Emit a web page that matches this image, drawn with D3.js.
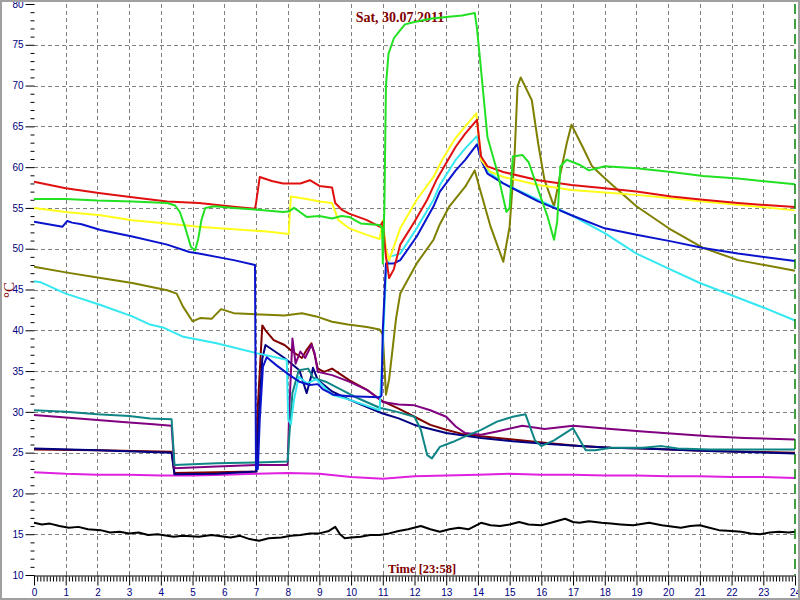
<!DOCTYPE html>
<html><head><meta charset="utf-8">
<script src="https://cdn.jsdelivr.net/npm/d3@7"></script>
<style>
html,body{margin:0;padding:0;background:#fff;}
svg{display:block;}
</style></head>
<body>
<svg id="chart" width="800" height="600"></svg>
<script>
// ---- DATA (hours, °C) ----
const titleText = "Sat, 30.07.2011";
const xAxisTitle = "Time [23:58]";
const yAxisTitle = "°C";
const xTickLabels = d3.range(0, 25);
const yTickLabels = d3.range(10, 81, 5);

const greenSeries = [[0,56.1],[1,56.1],[2,55.9],[3.1,55.8],[4.2,55.6],[4.45,55.3],[4.6,54.5],[4.76,52.7],[4.95,50.2],[5.08,49.8],[5.18,51.2],[5.28,53.5],[5.4,55.0],[5.7,55.2],[6.3,55.0],[6.97,54.8],[7.86,54.5],[8.05,54.6],[8.2,55.0],[8.35,54.6],[8.6,53.9],[9.0,54.0],[9.4,53.7],[9.7,54.0],[9.94,53.9],[10.3,53.1],[10.9,52.9],[10.98,52.5],[11.0,48.2],[11.05,55],[11.1,70],[11.18,73.9],[11.35,75.8],[11.55,76.8],[11.7,77.5],[12.0,77.8],[12.5,78.2],[13.0,78.4],[13.5,78.6],[13.9,78.9],[13.97,77.0],[14.07,73.1],[14.2,67.8],[14.3,63.7],[14.6,59.6],[14.9,54.5],[15.0,55.0],[15.1,61.3],[15.4,61.5],[15.6,60.6],[15.9,57.2],[16.2,53.9],[16.4,51.1],[16.5,53.3],[16.6,60.1],[16.8,60.9],[17.2,60.3],[17.5,59.6],[17.8,59.9],[18.0,60.1],[19.0,59.85],[20.1,59.4],[21.1,58.9],[22.2,58.6],[24,57.9]];

const redSeries = [[0,58.2],[1,57.4],[2.1,56.8],[3.1,56.3],[4.2,55.8],[5.2,55.6],[6.3,55.15],[6.97,54.9],[7.0,55.5],[7.12,58.8],[7.5,58.3],[7.86,58.0],[8.4,58.0],[8.7,58.4],[9.0,57.7],[9.4,57.5],[9.5,55.6],[9.7,54.8],[9.94,54.3],[10.5,53.5],[10.9,52.7],[11.0,53.3],[11.1,49],[11.2,46.4],[11.35,47.5],[11.55,50.5],[12.0,53.3],[12.4,56.0],[12.7,58.5],[13.0,60.5],[13.3,62.5],[13.6,64.1],[13.97,65.8],[14.1,61.3],[14.3,60.1],[14.8,59.4],[15.9,58.4],[16.95,57.8],[18,57.4],[19,57.0],[20.1,56.4],[21.1,56.0],[22.2,55.6],[24,55.1]];

const yellowSeries = [[0,55.0],[1,54.5],[2.1,54.1],[3.1,53.5],[4.2,53.1],[5.2,52.7],[6.3,52.4],[7.35,52.1],[8.03,51.8],[8.1,56.4],[8.6,56.1],[9.0,55.8],[9.4,55.6],[9.6,53.5],[9.94,52.5],[10.5,51.7],[10.9,51.2],[11.0,53.5],[11.1,50.0],[11.2,48.6],[11.55,52.5],[12.07,56.0],[12.6,58.8],[12.9,61.1],[13.0,61.7],[13.3,63.6],[13.6,65.0],[13.95,66.6],[14.1,60.9],[14.4,59.4],[14.8,58.8],[15.9,57.8],[16.95,57.2],[18,56.9],[19,56.6],[20.1,56.2],[21.1,55.8],[22.2,55.4],[24,54.7]];

const blueSeries = [[0,53.3],[0.9,52.7],[1.05,53.4],[1.2,53.2],[1.5,53.0],[2.1,52.3],[3.1,51.5],[4.2,50.5],[4.9,49.6],[5.2,49.4],[6.3,48.6],[6.97,48.0],[7.0,23.0],[7.06,23.0],[7.12,29.0],[7.22,35.5],[7.34,36.7],[7.65,35.7],[8.06,34.5],[8.37,33.7],[8.7,33.3],[8.95,33.4],[9.1,32.8],[9.44,32.1],[9.97,31.9],[10.9,31.8],[10.96,32],[11.0,40],[11.1,48.2],[11.35,48.2],[11.55,48.6],[12.07,51.5],[12.6,55.2],[12.8,57.0],[13.3,59.6],[13.6,60.9],[13.97,62.8],[14.1,60.9],[14.3,59.2],[14.8,58.0],[15.4,56.8],[15.9,55.8],[16.4,55.0],[16.95,54.1],[18.0,52.5],[19.0,51.7],[20.1,50.9],[21.1,50.1],[22.2,49.4],[24,48.5]];

const cyanSeries = [[0,46.0],[0.2,45.9],[1,44.5],[2.1,43.1],[3.1,41.7],[3.66,40.7],[4.1,40.3],[4.71,39.2],[5.76,38.4],[7.02,37.2],[7.97,36.4],[8.02,29],[8.1,28.5],[8.2,31.5],[8.35,34.3],[8.6,33.5],[8.9,34.0],[9.4,32.1],[9.94,31.5],[10.9,30.2],[11.0,38],[11.1,47],[11.2,49.0],[11.55,49.4],[12.07,52.5],[12.6,56.0],[12.8,57.8],[13.3,60.9],[13.6,62.3],[13.97,63.8],[14.1,61.3],[14.3,59.6],[14.8,58.0],[15.9,56.0],[16.95,54.1],[18.0,51.9],[19.0,49.4],[20.1,47.4],[21,45.8],[22,44.3],[23,42.8],[24,41.2]];

const oliveSeries = [[0,47.8],[1,47.1],[2.1,46.4],[3.1,45.8],[4.2,44.9],[4.5,44.5],[4.7,42.9],[5.0,41.1],[5.24,41.5],[5.6,41.4],[5.9,42.6],[6.3,42.1],[7.35,41.9],[7.9,41.8],[8.45,42.1],[8.9,41.7],[9.4,41.05],[9.9,40.7],[10.5,40.4],[10.9,40.1],[11.0,39.5],[11.1,32.1],[11.2,34],[11.42,41.5],[11.55,44.5],[12.07,48.2],[12.6,51.1],[12.8,53.0],[13.1,55.2],[13.6,57.6],[13.9,59.6],[14.1,56.8],[14.4,52.7],[14.8,48.4],[15.0,52.7],[15.15,60.9],[15.25,69.9],[15.35,71.0],[15.7,68.2],[15.9,62.9],[16.1,58.4],[16.4,55.2],[16.6,59.2],[16.8,62.9],[16.95,65.2],[17.3,62.5],[17.6,60.1],[17.9,59.0],[18.3,57.6],[19.0,55.2],[20.1,52.3],[21.1,50.1],[22.2,48.6],[24,47.3]];

const tealSeries = [[0,30.2],[1,30.0],[2,29.7],[3,29.5],[3.66,29.2],[4.34,29.1],[4.43,23.5],[5.76,23.7],[7.02,23.8],[8.0,23.9],[8.05,27.0],[8.15,32.3],[8.35,35.1],[8.65,35.3],[8.8,34.2],[9.2,33.7],[9.7,32.7],[10.2,31.7],[10.9,30.5],[11.45,30.0],[12.0,29.4],[12.2,27.8],[12.4,24.7],[12.55,24.3],[12.8,25.7],[13.2,26.3],[13.6,27.0],[14.1,27.8],[14.6,28.8],[15.1,29.4],[15.5,29.7],[15.8,26.5],[16.0,25.8],[16.4,26.5],[17.0,28.0],[17.4,25.3],[17.7,25.3],[18.2,25.6],[19.2,25.6],[19.8,25.8],[20.3,25.5],[21.3,25.4],[22.4,25.4],[24,25.4]];

const purpleSeries = [[0,29.6],[1,29.3],[2,29.0],[3,28.7],[3.66,28.5],[4.34,28.3],[4.43,23.1],[5.76,23.3],[7.02,23.5],[8.0,23.5],[8.05,30.2],[8.15,39.0],[8.25,35.9],[8.4,37.4],[8.55,36.6],[8.75,38.2],[8.85,37.2],[8.95,34.9],[9.4,34.5],[9.94,33.7],[10.5,32.7],[11.0,31.2],[11.5,30.9],[12.0,30.8],[12.5,30.2],[13.0,29.4],[13.3,28.2],[13.6,27.4],[14.1,27.2],[14.6,27.6],[15.4,28.3],[16.1,27.9],[17.0,28.3],[18.2,27.9],[19.2,27.6],[20.3,27.3],[21.3,27.0],[22.4,26.8],[24,26.6]];

const maroonSeries = [[0,25.4],[2,25.3],[4.34,25.1],[4.43,22.5],[5.76,22.6],[7.0,22.7],[7.05,30],[7.2,40.6],[7.3,40.0],[7.56,38.8],[7.9,38.2],[8.15,37.4],[8.45,36.6],[8.6,37.6],[8.75,38.4],[8.85,37.0],[8.95,35.3],[9.15,34.9],[9.4,35.3],[9.94,33.9],[10.5,32.7],[11.0,31.3],[11.5,30.4],[12.0,29.4],[12.5,28.4],[13.0,27.8],[13.5,27.3],[14.1,27.0],[15.1,26.6],[16.1,26.2],[17.2,25.8],[18.2,25.6],[19.2,25.5],[21.3,25.2],[24,25.0]];

const navySeries = [[0,25.5],[2,25.3],[4.34,25.0],[4.43,22.35],[5.76,22.4],[7.02,22.7],[7.1,30],[7.2,36.5],[7.3,38.2],[7.45,37.8],[7.9,36.6],[8.37,35.1],[8.5,33.5],[8.6,32.3],[8.75,34.5],[8.8,35.4],[8.95,33.9],[9.4,32.5],[9.94,31.5],[10.5,30.6],[11.0,29.8],[11.5,29.2],[12.0,28.4],[13.0,27.4],[14.1,26.8],[15.1,26.4],[16.1,26.1],[17.2,25.8],[18.2,25.6],[19.2,25.5],[21.3,25.2],[24,24.9]];

const magentaSeries = [[0,22.6],[1,22.4],[2,22.3],[3,22.3],[4,22.2],[5,22.2],[6,22.3],[7,22.4],[8,22.5],[9,22.4],[10,22.0],[11,21.8],[12,22.1],[13,22.2],[14,22.3],[15,22.4],[16,22.3],[17,22.3],[18,22.2],[19,22.2],[20,22.1],[21,22.1],[22,22.0],[23,22.0],[24,21.9]];

const blackSeries = [[0,16.4],[0.25,16.2],[0.5,16.3],[0.8,16.0],[1.1,15.8],[1.4,15.9],[1.7,15.6],[2.1,15.5],[2.4,15.2],[2.7,15.3],[3.0,15.1],[3.3,15.2],[3.6,14.9],[3.9,15.0],[4.4,14.7],[4.7,14.8],[5.2,14.7],[5.6,14.9],[6.2,14.6],[6.5,14.8],[6.8,14.4],[7.1,14.2],[7.4,14.5],[7.8,14.6],[8.1,14.8],[8.4,14.9],[8.7,15.1],[9.0,15.1],[9.3,15.4],[9.5,15.9],[9.65,15.0],[9.8,14.5],[10.0,14.6],[10.3,14.7],[10.6,14.9],[10.9,14.9],[11.2,15.1],[11.5,15.4],[11.8,15.6],[12.2,16.0],[12.5,15.6],[12.8,15.3],[13.1,15.6],[13.4,15.8],[13.7,15.6],[14.1,16.4],[14.4,16.1],[14.7,16.0],[15.0,16.2],[15.3,16.5],[15.6,16.2],[16.0,16.1],[16.3,16.4],[16.75,16.9],[17.0,16.5],[17.2,16.4],[17.5,16.6],[17.9,16.4],[18.2,16.3],[18.5,16.2],[18.9,16.1],[19.4,16.4],[19.8,16.1],[20.4,15.8],[20.7,16.0],[21.0,16.1],[21.3,15.8],[21.6,15.5],[22.0,15.4],[22.3,15.3],[22.6,15.1],[22.9,15.0],[23.2,15.2],[23.5,15.3],[23.8,15.2],[24,15.3]];

// ---- drawing ----
const series = [
  {data: blackSeries,   color: "#000000"},
  {data: magentaSeries, color: "#e020e0"},
  {data: maroonSeries,  color: "#800000"},
  {data: navySeries,    color: "#000080"},
  {data: purpleSeries,  color: "#800080"},
  {data: tealSeries,    color: "#108585"},
  {data: oliveSeries,   color: "#7f7f00"},
  {data: cyanSeries,    color: "#33e8f0"},
  {data: blueSeries,    color: "#0a14cc"},
  {data: yellowSeries,  color: "#ffff1a"},
  {data: redSeries,     color: "#e01010"},
  {data: greenSeries,   color: "#22e022"}
];

const svg = d3.select("#chart");
const x = d3.scaleLinear().domain([0, 24]).range([34, 795]);
const y = d3.scaleLinear().domain([10, 80]).range([575, 4]);

svg.append("rect").attr("x",0).attr("y",0).attr("width",800).attr("height",600).attr("fill","#fff");

// grid
const grid = svg.append("g").attr("stroke","#808080").attr("stroke-width",1).attr("stroke-dasharray","4,3");
grid.selectAll("line.v").data(d3.range(1,24)).join("line")
  .attr("x1",d=>Math.round(x(d))+0.5).attr("x2",d=>Math.round(x(d))+0.5)
  .attr("y1",y(80)).attr("y2",y(10));
grid.selectAll("line.h").data(d3.range(15,80,5)).join("line")
  .attr("x1",x(0)).attr("x2",x(24))
  .attr("y1",d=>Math.round(y(d))+0.5).attr("y2",d=>Math.round(y(d))+0.5);

// title
svg.append("text").attr("x",400).attr("y",22).attr("text-anchor","middle")
  .attr("font-family","'Liberation Serif', serif").attr("font-weight","bold").attr("font-size",14)
  .attr("fill","#800000").text(titleText);

// time label
svg.append("text").attr("x",388).attr("y",573)
  .attr("font-family","'Liberation Serif', serif").attr("font-weight","bold").attr("font-size",12.5)
  .attr("fill","#800000").text(xAxisTitle);

// y title
svg.append("text").attr("transform","translate(14,290) rotate(-90)").attr("text-anchor","middle")
  .attr("font-family","'Liberation Serif', serif").attr("font-size",15)
  .attr("fill","#800000").text(yAxisTitle);

// y axis minor
const yMinor = svg.append("g").attr("transform","translate(34.5,0)")
  .call(d3.axisLeft(y).tickValues(d3.range(10,81,1).filter(v=>v%5!==0)).tickSize(4).tickFormat(""));
yMinor.select(".domain").remove();
// y axis major
const yMajor = svg.append("g").attr("transform","translate(34.5,0)")
  .call(d3.axisLeft(y).tickValues(yTickLabels).tickSize(9).tickPadding(2));
yMajor.select(".domain").remove();
yMajor.selectAll("text").attr("fill","#000080").attr("font-family","'Liberation Sans', Arial, sans-serif").attr("font-size",10);
svg.selectAll(".tick line").attr("stroke","#000");

// x axis minor
const xMinor = svg.append("g").attr("transform","translate(0,575.5)")
  .call(d3.axisBottom(x).tickValues(d3.range(0,240).filter(v=>v%10!==0).map(v=>v/10)).tickSize(5).tickFormat(""));
xMinor.select(".domain").remove();
xMinor.selectAll("line").attr("stroke","#000").attr("transform","translate(0,1)");
// x axis major
const xMajor = svg.append("g").attr("transform","translate(0,575.5)")
  .call(d3.axisBottom(x).tickValues(xTickLabels).tickSize(10).tickPadding(3).tickSizeOuter(0));
xMajor.select(".domain").attr("stroke","#000");
xMajor.selectAll("line").attr("stroke","#000");
xMajor.selectAll("text").attr("fill","#000080").attr("font-family","'Liberation Sans', Arial, sans-serif").attr("font-size",10);

// lines
const line = d3.line().x(d=>x(d[0])).y(d=>y(d[1]));
svg.append("g").selectAll("path").data(series).join("path")
  .attr("d",d=>line(d.data)).attr("fill","none")
  .attr("stroke",d=>d.color).attr("stroke-width",2).attr("stroke-linejoin","round");

// cursor line
svg.append("line").attr("x1",x(24)).attr("x2",x(24)).attr("y1",y(80)).attr("y2",y(10))
  .attr("stroke","#008000").attr("stroke-width",1.5).attr("stroke-dasharray","10,5");

// frame
svg.append("rect").attr("x",1).attr("y",1).attr("width",798).attr("height",598)
  .attr("fill","none").attr("stroke","#a0a0a0").attr("stroke-width",2);
</script>
</body></html>
